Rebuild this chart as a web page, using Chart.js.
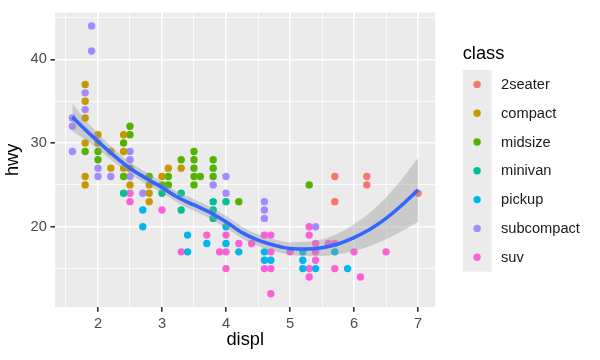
<!DOCTYPE html>
<html>
<head>
<meta charset="utf-8">
<script src="https://cdn.jsdelivr.net/npm/chart.js@4.4.1/dist/chart.umd.min.js"></script>
<style>
  html, body { margin: 0; padding: 0; background: #fff; }
  #wrap { width: 600px; height: 360px; }
</style>
</head>
<body>
<div id="wrap"><canvas id="c" width="600" height="360"></canvas></div>
<script>
// classes in legend order, with ggplot's default hue colours
const classes = ['2seater', 'compact', 'midsize', 'minivan', 'pickup', 'subcompact', 'suv']
const classColors = ['#F8766D', '#C49A00', '#53B400', '#00C094', '#00B6EB', '#A58AFF', '#FB61D7']

// [displ, hwy] pairs, per class
const twoSeater = [[5.7,26],[5.7,23],[6.2,26],[6.2,25],[7.0,24]]
const compact = [[1.8,37],[1.8,35],[1.8,33],[1.8,30],[1.8,26],[1.8,25],[2.0,31],[2.0,30],[2.2,29],[2.2,27],
  [2.4,31],[2.4,29],[2.4,27],[2.5,27],[2.5,25],[2.8,25],[2.8,24],[2.8,23],[3.0,26],[3.1,27],[3.3,27]]
const midsize = [[1.8,29],[2.0,29],[2.0,28],[2.4,30],[2.4,26],[2.5,32],[2.5,31],[2.8,26],[3.0,25],[3.1,26],
  [3.1,25],[3.3,28],[3.5,29],[3.5,28],[3.5,27],[3.5,26],[3.5,25],[3.6,26],[3.8,28],[3.8,27],[3.8,26],[4.2,23],[5.3,25]]
const minivan = [[2.4,24],[3.0,24],[3.3,24],[3.3,22],[3.8,23],[3.8,22],[3.8,21],[4.0,23]]
const pickup = [[2.7,22],[2.7,20],[3.4,19],[3.4,17],[3.7,18],[4.0,20],[4.0,18],[4.2,17],[4.6,17],[4.6,16],
  [4.7,16],[5.2,17],[5.2,16],[5.2,15],[5.4,15],[5.7,17],[5.9,15]]
const subcompact = [[1.6,33],[1.6,32],[1.6,29],[1.8,36],[1.8,34],[1.9,44],[1.9,41],[2.0,27],[2.0,26],[2.2,26],
  [2.5,29],[2.5,28],[2.5,26],[2.7,24],[3.8,25],[4.0,26],[4.0,24],[4.6,23],[4.6,22],[4.6,21],[5.4,20]]
const suv = [[2.5,24],[2.5,23],[3.0,22],[3.3,17],[3.7,19],[3.9,17],[4.0,19],[4.0,17],[4.0,15],[4.2,18],
  [4.4,18],[4.6,19],[4.6,15],[4.7,19],[4.7,17],[4.7,15],[4.7,12],[5.0,17],[5.3,20],[5.3,19],[5.3,15],
  [5.3,14],[5.4,18],[5.4,17],[5.4,16],[5.6,18],[5.7,18],[5.7,15],[6.0,17],[6.1,14],[6.5,17]]
const classPoints = [twoSeater, compact, midsize, minivan, pickup, subcompact, suv]

// loess smooth and its confidence band
const smoothX  = [1.6, 1.8, 2.0, 2.25, 2.5, 2.75, 3.0, 3.25, 3.5, 3.75, 4.0, 4.25, 4.5, 4.75, 5.0, 5.25, 5.5, 5.75, 6.0, 6.25, 6.5, 6.75, 7.0]
const smoothFit = [33.1, 31.6, 30.2, 28.5, 27.0, 25.8, 24.7, 23.5, 22.6, 21.7, 20.6, 19.3, 18.4, 17.8, 17.4, 17.35, 17.5, 17.95, 18.7, 19.7, 21.0, 22.6, 24.4]
const smoothLo = [31.4, 30.4, 29.25, 27.7, 26.3, 25.1, 24.05, 22.85, 21.9, 21.0, 19.9, 18.6, 17.7, 17.1, 16.65, 16.5, 16.5, 16.7, 17.1, 17.7, 18.5, 19.5, 20.6]
const smoothHi = [34.8, 32.8, 31.15, 29.3, 27.7, 26.5, 25.35, 24.15, 23.3, 22.4, 21.3, 20.0, 19.1, 18.5, 18.15, 18.2, 18.5, 19.2, 20.3, 21.7, 23.5, 25.7, 28.2]

// axes
const xTickLabels = [2, 3, 4, 5, 6, 7]
const xGrid = [1.5, 2, 2.5, 3, 3.5, 4, 4.5, 5, 5.5, 6, 6.5, 7]
const yTickLabels = [20, 30, 40]
const yGrid = [15, 20, 25, 30, 35, 40, 45]

const FONT = '"Liberation Sans", Arial, sans-serif'
const toXY = (xs, ys) => xs.map((x, i) => ({ x: x, y: ys[i] }))

const datasets = [
  { data: toXY(smoothX, smoothFit), showLine: true, borderColor: '#3366FF', borderWidth: 3.6,
    pointRadius: 0, cubicInterpolationMode: 'monotone', fill: false, order: 0 },
  { data: toXY(smoothX, smoothHi), showLine: true, borderWidth: 0, borderColor: 'rgba(0,0,0,0)',
    backgroundColor: 'rgba(153,153,153,0.4)', pointRadius: 0, cubicInterpolationMode: 'monotone', fill: '+1', order: 1 },
  { data: toXY(smoothX, smoothLo), showLine: true, borderWidth: 0, borderColor: 'rgba(0,0,0,0)',
    pointRadius: 0, cubicInterpolationMode: 'monotone', fill: false, order: 1 }
]
classes.forEach((c, i) => {
  datasets.push({
    label: c,
    data: classPoints[i].map(p => ({ x: p[0], y: p[1] })),
    backgroundColor: classColors[i],
    borderWidth: 0,
    pointRadius: 3.7,
    order: 2
  })
})

const panelBg = {
  id: 'panelBg',
  beforeDraw(chart) {
    const { ctx, chartArea: a } = chart
    ctx.save()
    ctx.fillStyle = '#fff'
    ctx.fillRect(0, 0, chart.width, chart.height)
    ctx.fillStyle = '#EBEBEB'
    ctx.fillRect(a.left, a.top, a.right - a.left, a.bottom - a.top)
    ctx.restore()
  }
}

const titlesAndLegend = {
  id: 'titlesAndLegend',
  afterDraw(chart) {
    const { ctx, chartArea: a } = chart
    ctx.save()
    ctx.fillStyle = '#000'
    ctx.font = '18.3px ' + FONT
    ctx.textAlign = 'center'
    ctx.textBaseline = 'alphabetic'
    ctx.fillText('displ', (a.left + a.right) / 2, 345)
    ctx.save()
    ctx.translate(18, (a.top + a.bottom) / 2)
    ctx.rotate(-Math.PI / 2)
    ctx.fillText('hwy', 0, 0)
    ctx.restore()

    // legend
    const kx = 462.7, ky = 70, kw = 28.8, kh = 28.8
    ctx.textAlign = 'left'
    ctx.fillText('class', kx, 59.3)
    ctx.fillStyle = '#EBEBEB'
    ctx.fillRect(kx, ky, kw, kh * classes.length)
    ctx.font = '14.65px ' + FONT
    ctx.textBaseline = 'middle'
    classes.forEach((c, i) => {
      const cy = ky + kh * i + kh / 2
      ctx.fillStyle = classColors[i]
      ctx.beginPath()
      ctx.arc(kx + kw / 2, cy, 3.7, 0, Math.PI * 2)
      ctx.fill()
      ctx.fillStyle = '#1A1A1A'
      ctx.fillText(c, 501, cy + 0.5)
    })
    ctx.restore()
  }
}

new Chart(document.getElementById('c'), {
  type: 'scatter',
  data: { datasets: datasets },
  options: {
    responsive: false,
    devicePixelRatio: 1,
    animation: false,
    events: [],
    layout: { padding: { top: 9.7, right: 164.7, left: 0, bottom: 0 } },
    plugins: { legend: { display: false }, tooltip: { enabled: false } },
    scales: {
      x: {
        type: 'linear', position: 'bottom', min: 1.33, max: 7.27,
        afterBuildTicks: s => { s.ticks = xGrid.map(v => ({ value: v })) },
        afterFit: s => { s.height = 52.9 },
        border: { display: false },
        grid: {
          color: '#FFFFFF',
          lineWidth: c => xTickLabels.includes(c.tick.value) ? 1.6 : 0.8,
          tickLength: 4.6,
          tickWidth: 1.6,
          tickColor: c => xTickLabels.includes(c.tick.value) ? '#333333' : 'rgba(0,0,0,0)'
        },
        ticks: {
          autoSkip: false, maxRotation: 0, padding: 3.7, color: '#4D4D4D',
          font: { family: FONT, size: 14.65 },
          callback: v => xTickLabels.includes(v) ? String(v) : ''
        }
      },
      y: {
        type: 'linear', position: 'left', min: 10.4, max: 45.6,
        afterBuildTicks: s => { s.ticks = yGrid.map(v => ({ value: v })) },
        afterFit: s => { s.width = 55.1 },
        border: { display: false },
        grid: {
          color: '#FFFFFF',
          lineWidth: c => yTickLabels.includes(c.tick.value) ? 1.6 : 0.8,
          tickLength: 4.6,
          tickWidth: 1.6,
          tickColor: c => yTickLabels.includes(c.tick.value) ? '#333333' : 'rgba(0,0,0,0)'
        },
        ticks: {
          autoSkip: false, padding: 3.7, color: '#4D4D4D',
          font: { family: FONT, size: 14.65 },
          callback: v => yTickLabels.includes(v) ? String(v) : ''
        }
      }
    }
  },
  plugins: [panelBg, titlesAndLegend]
})
</script>
</body>
</html>
